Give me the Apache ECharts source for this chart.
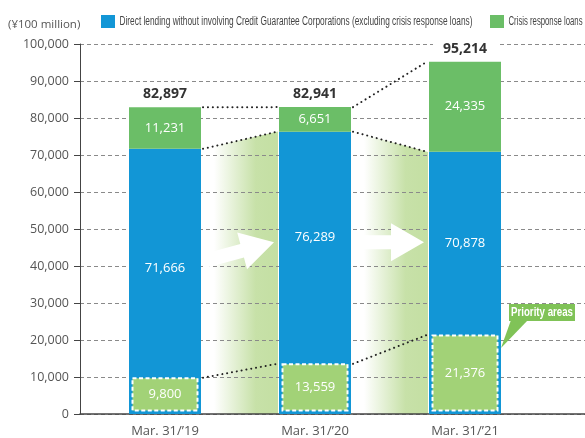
<!DOCTYPE html>
<html>
<head>
<meta charset="utf-8">
<script src="https://cdn.jsdelivr.net/npm/echarts@6/dist/echarts.min.js"></script>
<style>
  html, body { margin: 0; padding: 0; background: #fff; }
  #chart { width: 585px; height: 438px; }
</style>
</head>
<body>
<div id="chart"></div>
<script>
// Outstanding loans by fiscal year end (unit: ¥100 million)
const categories = ['Mar. 31/\u201919', 'Mar. 31/\u201920', 'Mar. 31/\u201921'];
const directLending = [71666, 76289, 70878];
const crisisLoans = [11231, 6651, 24335];
const totals = [82897, 82941, 95214];
const priorityAreas = [9800, 13559, 21376];
const seriesNames = [
  'Direct lending without involving Credit Guarantee Corporations (excluding crisis response loans)',
  'Crisis response loans'
];
const unitLabel = '(\u00a5100 million)';
const calloutLabel = 'Priority areas';
const yMin = 0, yMax = 100000, yStep = 10000;

// Styling constants
const BLUE = '#1296d6';
const GREEN = '#6bbe67';
const LIGHT_GREEN = '#a2d277';
const CALLOUT_GREEN = '#80c357';
const BAR_W = 72;
const FONT = "'Open Sans', 'Noto Sans', sans-serif";
const COND = "'Liberation Sans', Arial, sans-serif";
const directLabelOffsets = [-13, -36, -40];
const ARROW_TIP_VALUE = 46400;
const arrowAngles = [-15, 0];
// legend layout: [swatch x, text x, text width]
const legendSlots = [[101, 119.5, 353], [490, 508.5, 74]];

const fmt = v => Number(v).toLocaleString('en-US');
const gaps = [[0, 0], [1, 0]];

// condensed text: measure with a regular face, then squeeze horizontally
const measureCtx = document.createElement('canvas').getContext('2d');
function textWidth(text, font) {
  measureCtx.font = font;
  return measureCtx.measureText(text).width;
}

const chart = echarts.init(document.getElementById('chart'), null, { renderer: 'canvas' });

function edges(api, i) {
  const c = api.coord([i, 0]);
  return { l: c[0] - BAR_W / 2, r: c[0] + BAR_W / 2, base: c[1] };
}

const legendFont = '12.5px ' + COND;
const legendGraphics = [];
seriesNames.forEach((name, k) => {
  const [sx, tx, tw] = legendSlots[k];
  legendGraphics.push({
    type: 'rect', shape: { x: sx, y: 15, width: 14, height: 13 },
    style: { fill: k === 0 ? BLUE : GREEN }
  });
  legendGraphics.push({
    type: 'text', x: tx, y: 22, scaleX: tw / textWidth(name, legendFont),
    style: { text: name, font: legendFont, fill: '#444', verticalAlign: 'middle', align: 'left' }
  });
});

const option = {
  backgroundColor: '#fff',
  animation: false,
  title: {
    text: unitLabel,
    left: 3, top: 14,
    textStyle: { fontFamily: FONT, fontSize: 11.5, fontWeight: 'normal', color: '#555' }
  },
  graphic: legendGraphics,
  grid: [
    { left: 80, right: 0, top: 44, bottom: 24 },
    { left: 90, right: 45, top: 44, bottom: 24 }
  ],
  xAxis: [
    {
      gridIndex: 0, type: 'value', min: 0, max: 1,
      axisLine: { show: true, lineStyle: { color: '#444', width: 1.5 } },
      axisTick: { show: false }, axisLabel: { show: false }, splitLine: { show: false }
    },
    {
      gridIndex: 1, type: 'category', data: categories,
      axisLine: { show: false }, axisTick: { show: false },
      axisLabel: { color: '#555', fontFamily: FONT, fontSize: 13, margin: 11 }
    }
  ],
  yAxis: [
    {
      gridIndex: 0, type: 'value', min: yMin, max: yMax, interval: yStep,
      axisLine: { show: true, lineStyle: { color: '#444', width: 1 } },
      axisTick: { show: true, inside: false, length: 6, lineStyle: { color: '#444' } },
      axisLabel: { color: '#555', fontFamily: FONT, fontSize: 12.5, margin: 11, formatter: fmt },
      splitLine: { show: true, lineStyle: { color: '#8a8a8a', type: [4, 3], width: 1 } }
    },
    { gridIndex: 1, type: 'value', min: yMin, max: yMax, show: false }
  ],
  series: [
    // green fade between bars, beneath the gridlines
    {
      type: 'custom', xAxisIndex: 1, yAxisIndex: 1, z: -1, silent: true,
      data: gaps,
      renderItem(params, api) {
        const i = api.value(0);
        const a = edges(api, i), b = edges(api, i + 1);
        const x1 = a.r + 2, y1 = api.coord([i, directLending[i]])[1];
        const x2 = b.l - 2, y2 = api.coord([i + 1, directLending[i + 1]])[1];
        const yAt = x => y1 + (y2 - y1) * (x - x1) / (x2 - x1);
        const gx0 = a.r + 13, gx1 = b.l - 1;
        return {
          type: 'polygon',
          shape: { points: [[gx0, yAt(gx0)], [gx1, yAt(gx1)], [gx1, a.base], [gx0, a.base]] },
          style: {
            fill: new echarts.graphic.LinearGradient(0, 0, 1, 0, [
              { offset: 0, color: 'rgba(199,225,168,0)' },
              { offset: 0.65, color: 'rgba(199,225,168,1)' },
              { offset: 1, color: 'rgba(196,223,163,1)' }
            ])
          }
        };
      }
    },
    {
      name: seriesNames[0], type: 'bar', xAxisIndex: 1, yAxisIndex: 1,
      stack: 'total', barWidth: BAR_W,
      itemStyle: { color: BLUE },
      data: directLending.map((v, i) => ({
        value: v,
        label: { offset: [0, directLabelOffsets[i]] }
      })),
      label: {
        show: true, position: 'inside', color: '#fff',
        fontFamily: FONT, fontSize: 13, formatter: p => fmt(p.value)
      }
    },
    {
      name: seriesNames[1], type: 'bar', xAxisIndex: 1, yAxisIndex: 1,
      stack: 'total', barWidth: BAR_W,
      itemStyle: { color: GREEN },
      data: crisisLoans,
      label: {
        show: true, position: 'inside', color: '#fff',
        fontFamily: FONT, fontSize: 13, formatter: p => fmt(p.value)
      }
    },
    // white arrows in the gaps
    {
      type: 'custom', xAxisIndex: 1, yAxisIndex: 1, z: 3, silent: true,
      data: gaps,
      renderItem(params, api) {
        const i = api.value(0);
        const b = edges(api, i + 1);
        const tip = [b.l - 5, api.coord([i + 1, ARROW_TIP_VALUE])[1]];
        const th = arrowAngles[i] * Math.PI / 180;
        const c = Math.cos(th), s = Math.sin(th);
        const local = [[0, 0], [-33, -19], [-33, -7], [-72, -7], [-72, 7], [-33, 7], [-33, 19]];
        const pts = local.map(([x, y]) => [tip[0] + x * c - y * s, tip[1] + x * s + y * c]);
        return { type: 'polygon', shape: { points: pts }, style: { fill: '#fff' } };
      }
    },
    // dotted connectors between bars
    {
      type: 'custom', xAxisIndex: 1, yAxisIndex: 1, z: 4, silent: true,
      data: gaps,
      renderItem(params, api) {
        const i = api.value(0);
        const a = edges(api, i), b = edges(api, i + 1);
        const children = [totals, directLending, priorityAreas].map(arr => ({
          type: 'line',
          shape: {
            x1: a.r + 2, y1: api.coord([i, arr[i]])[1],
            x2: b.l - 2, y2: api.coord([i + 1, arr[i + 1]])[1]
          },
          style: { stroke: '#222', lineWidth: 2, lineDash: [0.1, 4.8], lineCap: 'round' }
        }));
        return { type: 'group', children };
      }
    },
    // priority-area boxes inside the blue bars
    {
      type: 'custom', xAxisIndex: 1, yAxisIndex: 1, z: 5, silent: true,
      data: priorityAreas.map((v, i) => [i, v]),
      renderItem(params, api) {
        const i = api.value(0), v = api.value(1);
        const top = api.coord([i, v]);
        const e = edges(api, i);
        const x0 = e.l + 3.5, w = BAR_W - 7;
        const y0 = top[1] + 0.5, h = e.base - 3.5 - y0;
        return {
          type: 'group',
          children: [
            {
              type: 'rect', shape: { x: x0, y: y0, width: w, height: h },
              style: { fill: LIGHT_GREEN, stroke: '#fff', lineWidth: 2, lineDash: [4, 2.5] }
            },
            {
              type: 'text',
              style: {
                text: fmt(v), x: top[0], y: y0 + h / 2,
                align: 'center', verticalAlign: 'middle',
                fill: '#fff', font: '13px ' + FONT
              }
            }
          ]
        };
      }
    },
    // stated totals above each bar
    {
      type: 'custom', xAxisIndex: 1, yAxisIndex: 1, z: 6, silent: true,
      data: totals.map((v, i) => [i, v]),
      renderItem(params, api) {
        const i = api.value(0), v = api.value(1);
        const p = api.coord([i, v]);
        return {
          type: 'text',
          style: {
            text: fmt(v), x: p[0], y: p[1] - 6,
            align: 'center', verticalAlign: 'bottom',
            fill: '#333', font: 'bold 14px ' + FONT,
            backgroundColor: '#fff', padding: [0, 10]
          }
        };
      }
    },
    // "Priority areas" callout pointing at the last box
    {
      type: 'custom', xAxisIndex: 1, yAxisIndex: 1, z: 7, silent: true,
      data: [[priorityAreas.length - 1, priorityAreas[priorityAreas.length - 1]]],
      renderItem(params, api) {
        const i = api.value(0), v = api.value(1);
        const top = api.coord([i, v])[1];
        const e = edges(api, i);
        const bx = e.r + 8, bw = 66, bh = 17;
        const bBottom = top - 14, by = bBottom - bh;
        const cFont = 'bold 12px ' + COND;
        return {
          type: 'group',
          children: [
            {
              type: 'polygon',
              shape: { points: [[bx + 2, bBottom - 1], [bx + 19, bBottom - 1], [e.r, top + 13]] },
              style: { fill: CALLOUT_GREEN }
            },
            { type: 'rect', shape: { x: bx, y: by, width: bw, height: bh }, style: { fill: CALLOUT_GREEN } },
            {
              type: 'text', x: bx + bw / 2, y: by + bh / 2 + 0.5,
              scaleX: 62 / textWidth(calloutLabel, cFont),
              style: {
                text: calloutLabel, x: 0, y: 0,
                align: 'center', verticalAlign: 'middle',
                fill: '#fff', font: cFont
              }
            }
          ]
        };
      }
    }
  ]
};

chart.setOption(option);
</script>
</body>
</html>
